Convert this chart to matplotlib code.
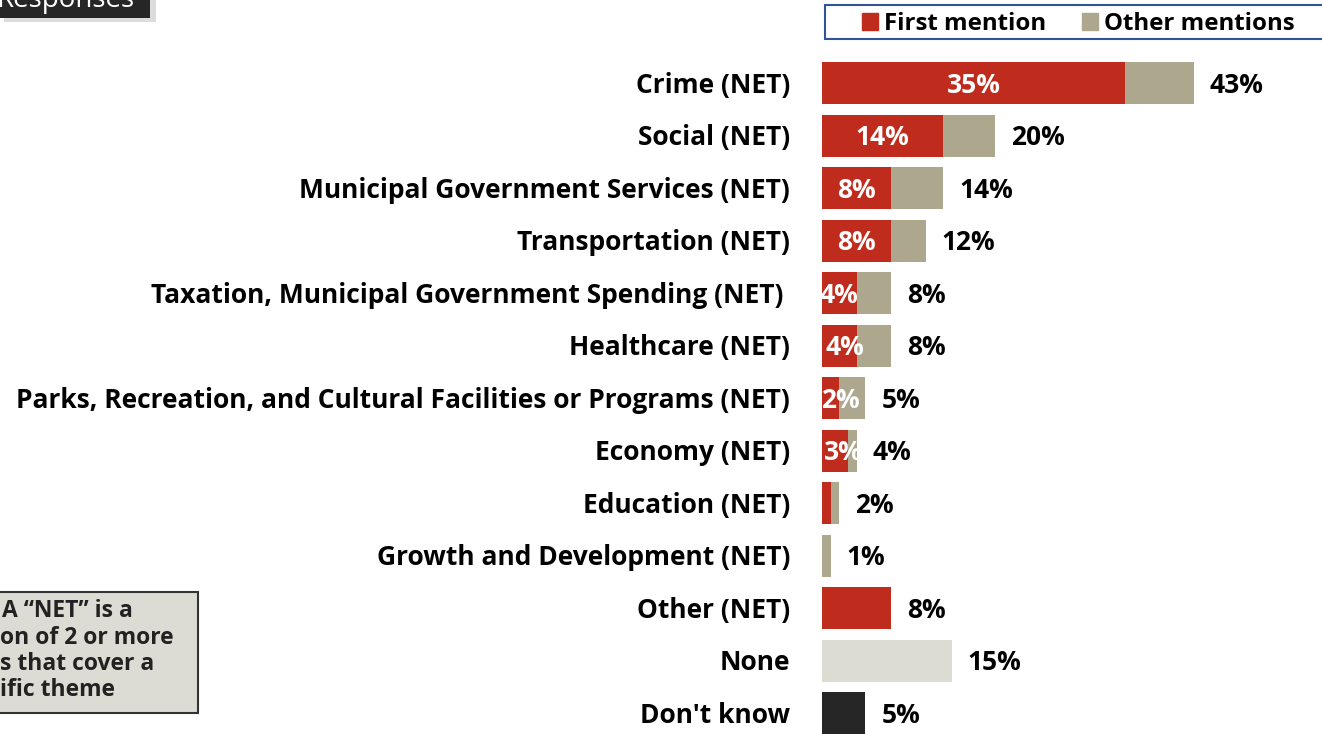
import numpy as np
import matplotlib
matplotlib.use('Agg')
import matplotlib.pyplot as plt
from matplotlib.patches import Rectangle, Patch

# data
categories = ['Crime (NET)', 'Social (NET)', 'Municipal Government Services (NET)',
              'Transportation (NET)', 'Taxation, Municipal Government Spending (NET) ',
              'Healthcare (NET)', 'Parks, Recreation, and Cultural Facilities or Programs (NET)',
              'Economy (NET)', 'Education (NET)', 'Growth and Development (NET)',
              'Other (NET)', 'None', "Don't know"]
first_mention = [35, 14, 8, 8, 4, 4, 2, 3, 1, 0, 8, 0, 0]
other_mentions = [8, 6, 6, 4, 4, 4, 3, 1, 1, 1, 0, 0, 0]
single_values = [0, 0, 0, 0, 0, 0, 0, 0, 0, 0, 0, 15, 5]
totals = [43, 20, 14, 12, 8, 8, 5, 4, 2, 1, 8, 15, 5]
inner_labels = ['35%', '14%', '8%', '8%', '4%', '4%', '2%', '3%', '', '', '', '', '']
inner_shift_px = [0, 0, 0, 0, 0, 6, 10, 8, 0, 0, 0, 0, 0]

RED = '#BF2C1D'
GRAY = '#ADA78E'
LIGHT = '#DDDCD3'
DARK = '#262626'
FONT = 'Open Sans'
FS = 19

W, H = 1322, 734
fig = plt.figure(figsize=(W / 100, H / 100), dpi=100)

x0 = 822
px_per_pct = 8.65
row0, row_step = 83, 52.5
ax = fig.add_axes([x0 / W, 0, (W - x0) / W, 1])
ax.set_xlim(0, (W - x0) / px_per_pct)
ax.set_ylim((H - row0) / row_step, -row0 / row_step)
ax.axis('off')

y = np.arange(len(categories))
first = np.array(first_mention)
other = np.array(other_mentions)
single = np.array(single_values)
colors_single = [LIGHT if c == 'None' else DARK for c in categories]

ax.barh(y, first, height=0.8, color=RED)
ax.barh(y, other, left=first, height=0.8, color=GRAY)
ax.barh(y, single, height=0.8, color=colors_single)

for i, cat in enumerate(categories):
    ax.text(-32 / px_per_pct, i + 0.04, cat, ha='right', va='center', fontsize=FS,
            fontweight='bold', family=FONT, color='black')
    ax.text(totals[i] + 16 / px_per_pct, i + 0.04, f'{totals[i]}%', ha='left', va='center',
            fontsize=FS, fontweight='bold', family=FONT, color='black')
    if inner_labels[i]:
        ax.text(first[i] / 2 + inner_shift_px[i] / px_per_pct, i + 0.04, inner_labels[i],
                ha='center', va='center', fontsize=FS, fontweight='bold', family=FONT,
                color='white')
for t in ax.texts:
    t.set_clip_on(False)

# legend box (cut off at the right edge)
fig.patches.append(Rectangle((825 / W, 1 - 39 / H), 520 / W, 34 / H,
                             transform=fig.transFigure, facecolor='white',
                             edgecolor='#2F5597', linewidth=1.5))
fig.legend(handles=[Patch(color=RED, label='First mention'),
                    Patch(color=GRAY, label='Other mentions')],
           loc='center left', bbox_to_anchor=(862 / W, 1 - 24 / H), ncol=2,
           frameon=False, borderpad=0, borderaxespad=0,
           handlelength=0.66, handleheight=0.66, handletextpad=0.25,
           columnspacing=1.5, prop={'family': FONT, 'weight': 'bold', 'size': 17.3})

# "Responses" tab at top left
fig.patches.append(Rectangle((4 / W, 1 - 22 / H), 152 / W, 22 / H,
                             transform=fig.transFigure, facecolor='#BBBBBB',
                             edgecolor='none', alpha=0.5))
fig.patches.append(Rectangle((0, 1 - 18 / H), 150 / W, 18 / H,
                             transform=fig.transFigure, facecolor=DARK, edgecolor='none'))
fig.text(-4 / W, 1 - 7 / H, 'Responses', color='white', fontsize=20, family=FONT,
         ha='left', va='baseline')

# NET note box (cut off at the left edge)
fig.patches.append(Rectangle((-10 / W, 1 - 713 / H), 208 / W, 121 / H,
                             transform=fig.transFigure, facecolor='#DDDCD4',
                             edgecolor='#333333', linewidth=1.5))
note_lines = ['A \u201cNET\u201d is a', 'on of 2 or more', 's that cover a', 'ific theme']
for k, line in enumerate(note_lines):
    fig.text((2 if k == 0 else 0) / W, 1 - (611 + 26.5 * k) / H, line, fontsize=16.5,
             fontweight='bold', family=FONT, color='#222222', ha='left', va='center')

fig.savefig('out.png', dpi=100)
